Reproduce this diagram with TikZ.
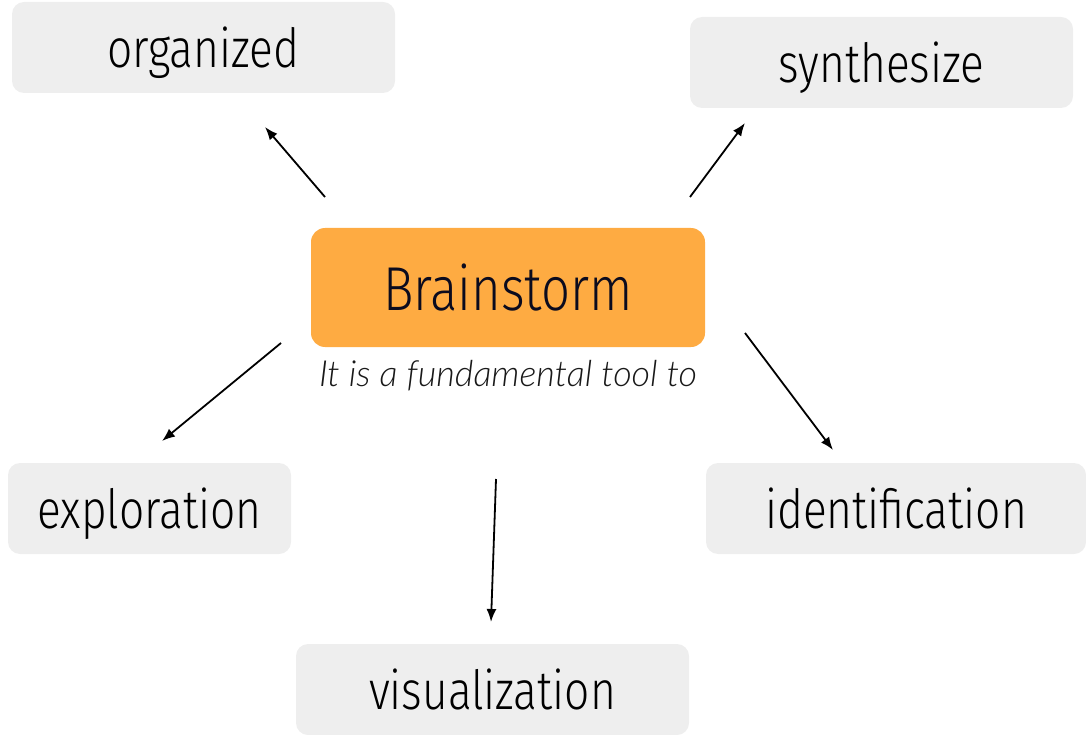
\documentclass[tikz,border=0pt]{standalone}
\usepackage{fontspec}
\usetikzlibrary{arrows.meta}
\setmainfont{Lato}
\newfontfamily\boxfont[FakeStretch=0.82]{Fira Sans Light}
\newfontfamily\notefont{Lato Light}
\definecolor{boxgray}{HTML}{EEEEEE}
\definecolor{brainorange}{HTML}{FEAB42}
\definecolor{navy}{HTML}{0B0B1E}
\begin{document}
\begin{tikzpicture}[x=1pt,y=-1pt,
  idea/.style={fill=boxgray, rounded corners=12pt, inner sep=0pt,
    text height=45pt, text depth=5pt,
    font=\boxfont\fontsize{54}{58}\selectfont, text=black},
  hub/.style={fill=brainorange, rounded corners=14pt, inner sep=0pt,
    minimum width=394pt, minimum height=119pt,
    font=\boxfont\fontsize{62}{66}\selectfont, text=navy},
  link/.style={line width=1.8pt, -{Latex[length=13pt,width=10pt]}}]
  \useasboundingbox (0,0) rectangle (1086,735);
  % central topic and its caption
  \node[hub] (brain) at (508,287.5) {Brainstorm};
  \node[font=\notefont\itshape\fontsize{36}{40}\selectfont, text=black!90] (note) at (508,376) {It is a fundamental tool to};
  % surrounding ideas
  \node[idea, minimum width=383pt, minimum height=91pt] (org) at (203.5,47.5) {organized};
  \node[idea, minimum width=383pt, minimum height=91pt] (syn) at (881.5,62.5) {synthesize};
  \node[idea, minimum width=283pt, minimum height=91pt] (exp) at (149.5,508.5) {exploration};
  \node[idea, minimum width=380pt, minimum height=91pt] (ide) at (896,508.5) {identification};
  \node[idea, minimum width=393pt, minimum height=91pt] (vis) at (492.5,689.5) {visualization};
  % arrow anchors
  \coordinate (a1) at (325,197); \coordinate (b1) at (265,127);
  \coordinate (a2) at (690,197); \coordinate (b2) at (745,123);
  \coordinate (a3) at (281,343); \coordinate (b3) at (162,441);
  \coordinate (a4) at (745,333); \coordinate (b4) at (833,450);
  \coordinate (a5) at (496,479); \coordinate (b5) at (491,622);
  \draw[link] (a1) -- (b1);
  \draw[link] (a2) -- (b2);
  \draw[link] (a3) -- (b3);
  \draw[link] (a4) -- (b4);
  \draw[link] (a5) -- (b5);
\end{tikzpicture}
\end{document}
